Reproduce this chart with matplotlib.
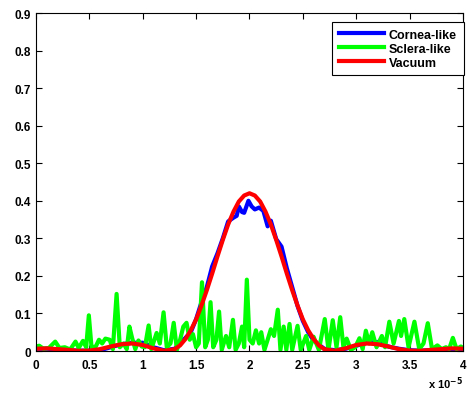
import numpy as np
import matplotlib
matplotlib.use('Agg')
import matplotlib.pyplot as plt

plt.rcParams['font.family'] = ['Liberation Sans', 'DejaVu Sans']
plt.rcParams['font.weight'] = 'bold'

# Vacuum (x in units of 1e-5)
x_vac = [0.0, 0.1, 0.2, 0.3, 0.4, 0.5, 0.6, 0.7, 0.8, 0.9, 1.0, 1.1, 1.2, 1.3, 1.35, 1.4,
         1.45, 1.5, 1.55, 1.6, 1.65, 1.7, 1.75, 1.8, 1.85, 1.9, 1.95, 2.0, 2.05, 2.1, 2.15,
         2.2, 2.25, 2.3, 2.35, 2.4, 2.45, 2.5, 2.55, 2.6, 2.65, 2.7, 2.8, 2.9, 3.0, 3.1,
         3.2, 3.3, 3.4, 3.5, 3.6, 3.7, 3.8, 3.9, 4.0]
y_vac = [0.006, 0.007, 0.005, 0.003, 0.0005, 0.001, 0.005, 0.012, 0.018, 0.020, 0.016,
         0.007, 0.0005, 0.005, 0.015, 0.032, 0.055, 0.084, 0.121, 0.162, 0.206, 0.252,
         0.296, 0.337, 0.371, 0.398, 0.414, 0.420, 0.414, 0.398, 0.371, 0.337, 0.296,
         0.252, 0.206, 0.162, 0.121, 0.084, 0.055, 0.032, 0.015, 0.005, 0.0005, 0.007,
         0.016, 0.020, 0.018, 0.012, 0.005, 0.001, 0.0005, 0.003, 0.005, 0.007, 0.006]

# Cornea-like
x_cor = [0.0, 0.1, 0.2, 0.3, 0.4, 0.5, 0.6, 0.7, 0.8, 0.9, 1.0, 1.1, 1.2, 1.3, 1.4, 1.45,
         1.5, 1.55, 1.6, 1.65, 1.7, 1.75, 1.8, 1.85, 1.88, 1.9, 1.93, 1.95, 1.99, 2.02,
         2.05, 2.09, 2.13, 2.17, 2.2, 2.25, 2.3, 2.35, 2.4, 2.45, 2.5, 2.55, 2.6, 2.7,
         2.8, 2.9, 3.0, 3.1, 3.2, 3.3, 3.4, 3.5, 3.6, 3.7, 3.8, 3.9, 4.0]
y_cor = [0.006, 0.006, 0.004, 0.002, 0.001, 0.001, 0.002, 0.010, 0.018, 0.022, 0.022,
         0.010, 0.002, 0.006, 0.035, 0.050, 0.085, 0.130, 0.170, 0.225, 0.260, 0.300,
         0.345, 0.355, 0.360, 0.385, 0.370, 0.368, 0.400, 0.385, 0.377, 0.382, 0.373,
         0.332, 0.347, 0.298, 0.278, 0.220, 0.170, 0.120, 0.080, 0.050, 0.028, 0.006,
         0.002, 0.006, 0.014, 0.022, 0.024, 0.012, 0.006, 0.002, 0.001, 0.002, 0.003,
         0.004, 0.005]

# Sclera-like
x_scl = [0.00, 0.03, 0.07, 0.12, 0.18, 0.22, 0.27, 0.32, 0.37, 0.40, 0.44, 0.47, 0.495,
         0.52, 0.56, 0.59, 0.62, 0.65, 0.69, 0.72, 0.755, 0.785, 0.82, 0.85, 0.875, 0.90,
         0.93, 0.96, 0.99, 1.02, 1.055, 1.08, 1.13, 1.16, 1.195, 1.225, 1.26, 1.29, 1.32,
         1.35, 1.38, 1.41, 1.44, 1.47, 1.50, 1.525, 1.555, 1.585, 1.61, 1.635, 1.66, 1.69,
         1.715, 1.74, 1.78, 1.81, 1.845, 1.87, 1.90, 1.93, 1.95, 1.975, 2.00, 2.03, 2.06,
         2.09, 2.11, 2.14, 2.17, 2.20, 2.23, 2.265, 2.29, 2.32, 2.345, 2.375, 2.40, 2.45,
         2.48, 2.53, 2.56, 2.60, 2.65, 2.705, 2.74, 2.78, 2.815, 2.85, 2.88, 2.91, 2.95,
         2.99, 3.03, 3.06, 3.09, 3.12, 3.15, 3.19, 3.24, 3.27, 3.31, 3.35, 3.40, 3.42,
         3.45, 3.49, 3.545, 3.59, 3.63, 3.67, 3.71, 3.76, 3.80, 3.84, 3.87, 3.905, 3.94,
         3.98, 4.00]
y_scl = [0.012, 0.014, 0.006, 0.008, 0.025, 0.008, 0.010, 0.004, 0.025, 0.008, 0.027,
         0.010, 0.095, 0.010, 0.012, 0.030, 0.020, 0.033, 0.030, 0.005, 0.152, 0.010,
         0.020, 0.005, 0.065, 0.035, 0.005, 0.028, 0.012, 0.010, 0.068, 0.005, 0.048,
         0.020, 0.103, 0.010, 0.020, 0.075, 0.003, 0.030, 0.065, 0.075, 0.030, 0.045,
         0.010, 0.020, 0.183, 0.010, 0.030, 0.130, 0.010, 0.030, 0.105, 0.003, 0.040,
         0.010, 0.083, 0.003, 0.020, 0.065, 0.010, 0.190, 0.030, 0.020, 0.055, 0.020,
         0.050, 0.003, 0.030, 0.058, 0.040, 0.110, 0.003, 0.065, 0.003, 0.072, 0.003,
         0.067, 0.003, 0.040, 0.003, 0.038, 0.003, 0.085, 0.003, 0.082, 0.010, 0.090,
         0.010, 0.033, 0.003, 0.010, 0.034, 0.005, 0.054, 0.020, 0.050, 0.010, 0.040,
         0.010, 0.078, 0.020, 0.080, 0.040, 0.085, 0.010, 0.078, 0.005, 0.020, 0.074,
         0.005, 0.015, 0.005, 0.010, 0.005, 0.035, 0.005, 0.012, 0.008]

x_ticks = [0, 0.5, 1, 1.5, 2, 2.5, 3, 3.5, 4]
x_ticklabels = ['0', '0.5', '1', '1.5', '2', '2.5', '3', '3.5', '4']
y_ticks = [0, 0.1, 0.2, 0.3, 0.4, 0.5, 0.6, 0.7, 0.8, 0.9]
y_ticklabels = ['0', '0.1', '0.2', '0.3', '0.4', '0.5', '0.6', '0.7', '0.8', '0.9']

fig = plt.figure(figsize=(4.7, 4.06), dpi=100)
ax = fig.add_axes([0.0766, 0.133, 0.9085, 0.8325])

ax.plot(x_cor, y_cor, color='#0000ff', lw=3, label='Cornea-like')
ax.plot(x_scl, y_scl, color='#00ff00', lw=3, label='Sclera-like')
ax.plot(x_vac, y_vac, color='#ff0000', lw=3, label='Vacuum')

ax.set_xlim(0, 4)
ax.set_ylim(0, 0.9)
ax.set_xticks(x_ticks)
ax.set_xticklabels(x_ticklabels)
ax.set_yticks(y_ticks)
ax.set_yticklabels(y_ticklabels)
ax.tick_params(axis='both', direction='in', top=True, right=True, length=4, width=0.8,
               labelsize=8.5)
ax.tick_params(axis='x', pad=6)
for lab in ax.get_xticklabels() + ax.get_yticklabels():
    lab.set_fontweight('bold')
for s in ax.spines.values():
    s.set_linewidth(0.8)

ax.text(1.0, -0.095, r'x 10$^{\mathbf{-5}}$', transform=ax.transAxes,
        ha='right', va='center', fontsize=8, fontweight='bold')

leg = ax.legend(loc='upper right', bbox_to_anchor=(1.016, 0.992),
                handlelength=3.6, fancybox=False, framealpha=1, edgecolor='black',
                borderpad=0.55, labelspacing=0.15, handletextpad=0.4,
                prop={'weight': 'bold', 'size': 9})
leg.get_frame().set_linewidth(0.8)

fig.savefig('out.png', dpi=100)
